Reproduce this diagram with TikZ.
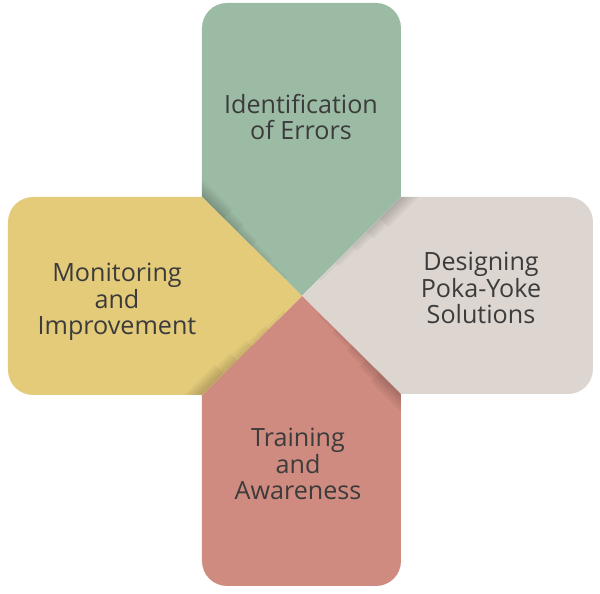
\documentclass[tikz,border=0pt]{standalone}
\usepackage{fontspec}
\setmainfont{Open Sans}
\usepackage{xcolor}
\usepackage{tikz}
\usetikzlibrary{positioning, calc}
\definecolor{sage}{RGB}{156,187,164}
\definecolor{mustard}{RGB}{228,203,122}
\definecolor{stone}{RGB}{221,214,208}
\definecolor{salmon}{RGB}{208,139,128}
\definecolor{inkgray}{RGB}{59,59,59}

% soft shadow along a seam, from the outer end #1 to the centre #2
\newcommand{\seamshadow}[2]{
    \draw[shadow, line width=0.50cm] (#1) -- ($(#1)!0.30!(#2)$);
    \draw[shadow, line width=0.40cm] (#1) -- ($(#1)!0.42!(#2)$);
    \draw[shadow, line width=0.30cm] (#1) -- ($(#1)!0.55!(#2)$);
    \draw[shadow, line width=0.20cm] (#1) -- ($(#1)!0.70!(#2)$);
    \draw[shadow, line width=0.10cm] (#1) -- ($(#1)!0.85!(#2)$);
}

\begin{document}
\begin{tikzpicture}[x=0.02cm, y=-0.02cm,
    petal/.style={rounded corners=0.5cm},
    shadow/.style={black, opacity=0.04},
    label/.style={align=center, text=inkgray, font=\fontsize{14.3}{15}\selectfont}
]
    \useasboundingbox (0,0) rectangle (600,594);
    \coordinate (hub) at (302,296);

    % Top petal
    \begin{scope}
        \clip (hub) -- (202,197) -- (202,3) -- (401,3) -- (401,197) -- cycle;
        \fill[sage, petal] (202,3) rectangle (401,320);
        \seamshadow{190,185}{hub}
    \end{scope}

    % Right petal
    \begin{scope}
        \clip (hub) -- (401,197) -- (593,197) -- (593,394) -- (401,394) -- cycle;
        \fill[stone, petal] (280,197) rectangle (593,394);
        \seamshadow{413,185}{hub}
    \end{scope}

    % Bottom petal
    \begin{scope}
        \clip (hub) -- (401,394) -- (401,586) -- (202,586) -- (202,395) -- cycle;
        \fill[salmon, petal] (202,270) rectangle (401,586);
        \seamshadow{413,406}{hub}
    \end{scope}

    % Left petal
    \begin{scope}
        \clip (hub) -- (202,395) -- (8,395) -- (8,197) -- (202,197) -- cycle;
        \fill[mustard, petal] (8,197) rectangle (320,395);
        \seamshadow{190,407}{hub}
    \end{scope}

    % Labels
    \node[label] (errors) at (301,117) {Identification\\of Errors};
    \node[label] (design) at (481,288) {Designing\\Poka-Yoke\\Solutions};
    \node[label] (monitor) at (117,302) {Monitoring\\and\\Improvement};
    \node[label] (training) at (298,464) {Training\\and\\Awareness};

\end{tikzpicture}
\end{document}
